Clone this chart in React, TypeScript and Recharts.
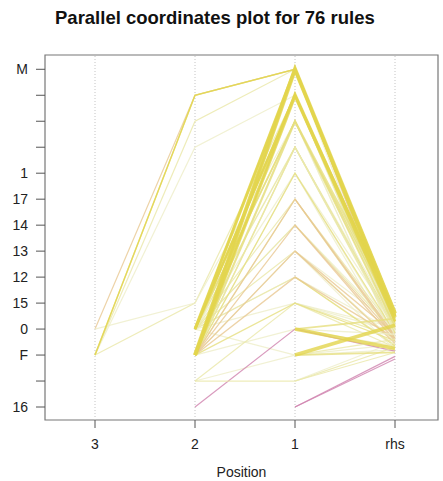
import React from "react";
import { LineChart, Line, XAxis, YAxis, ReferenceLine, ReferenceArea } from "recharts";

const positionLabels = ["3", "2", "1", "rhs"];
const itemLabels = ["16", "", "F", "0", "15", "12", "13", "14", "17", "1", "", "", "", "M"];

const N = null;
// item index at each position for each of the 76 rules
const pos3 = [2, 2, 3, 2, 2, 3, 2,
  N, N, N, N, N, N, N, N, N, N, N, N, N, N, N, N, N, N, N, N, N, N, N, N, N, N, N, N, N, N, N, N, N, N, N, N, N, N, N, N, N, N, N,
  N, N, N, N, N, N, N, N, N, N, N, N, N, N, N, N, N, N, N, N, N, N, N, N, N, N];
const pos2 = [12, 11, 12, 10, 4, 4, 12,
  2, 3, 2, 3, 2, 3, 2, 3, 2, 3, 2, 3, 2, 3, 2, 3, 2, 3, 2, 3, 2, 3, 2, 3, 2, 3, 2, 2, 3, 1, 1, 0, 1, 3, 2, 3, 2, 3, 2, 3, 2, 3, 2,
  N, N, N, N, N, N, N, N, N, N, N, N, N, N, N, N, N, N, N, N, N, N, N, N, N, N];
const pos1 = [13, 13, 13, 12, 12, 11, 13,
  13, 13, 12, 12, 11, 11, 10, 10, 9, 9, 8, 8, 7, 7, 6, 6, 5, 5, 4, 4, 13, 13, 12, 12, 11, 10, 9, 3, 2, 2, 4, 3, 1, 13, 13, 12, 12, 11, 8, 7, 6, 5, 10,
  13, 12, 11, 10, 9, 8, 7, 6, 5, 4, 3, 2, 1, 0, 1, 2, 3, 13, 12, 0, 4, 11, 13, 2, 3, 6];
const rhs = [3.35, 3.15, 3.05, 2.8, 2.95, 2.6, 3.25,
  3.6, 3.5, 3.45, 3.3, 3.7, 3.1, 3.0, 2.9, 2.85, 3.2, 2.75, 2.6, 2.7, 3.0, 2.8, 2.5, 2.65, 2.9, 2.55, 3.05, 3.4, 3.55, 3.15, 2.95, 3.35, 3.25, 2.45, 2.35, 2.2, 2.4, 2.7, 2.15, 2.3, 3.65, 3.5, 3.6, 3.55, 3.4, 2.9, 2.85, 3.1, 2.4, 3.1,
  3.65, 3.5, 3.2, 3.0, 2.75, 2.65, 2.55, 2.45, 2.35, 2.3, 2.25, 3.15, 2.5, 1.95, 2.1, 2.6, 2.8, 3.3, 3.0, 1.85, 2.9, 2.6, 2.7, 2.1, 3.4, 2.2];
const support = [0.012, 0.01, 0.01, 0.01, 0.01, 0.01, 0.016,
  0.07, 0.05, 0.06, 0.04, 0.03, 0.02, 0.015, 0.012, 0.012, 0.01, 0.012, 0.01, 0.012, 0.01, 0.012, 0.01, 0.012, 0.01, 0.012, 0.01, 0.02, 0.015, 0.015, 0.012, 0.012, 0.01, 0.01, 0.01, 0.01, 0.01, 0.01, 0.01, 0.01, 0.03, 0.04, 0.03, 0.025, 0.015, 0.01, 0.01, 0.01, 0.01, 0.012,
  0.03, 0.02, 0.012, 0.012, 0.01, 0.012, 0.012, 0.012, 0.01, 0.01, 0.06, 0.06, 0.01, 0.01, 0.01, 0.012, 0.012, 0.015, 0.012, 0.01, 0.01, 0.01, 0.012, 0.02, 0.02, 0.01];
const lift = [1.6, 1.3, 2.3, 1.1, 1.2, 1.0, 1.9,
  1.9, 1.9, 1.9, 1.8, 1.7, 1.5, 1.3, 1.2, 1.5, 1.1, 2.3, 1.2, 2.4, 1.1, 2.2, 1.4, 2.1, 1.0, 1.6, 1.0, 1.6, 1.4, 1.2, 1.0, 1.1, 1.0, 1.0, 1.1, 1.0, 1.0, 1.2, 3.0, 1.3, 1.8, 2.0, 1.9, 1.8, 1.6, 1.3, 1.4, 1.1, 1.3, 1.6,
  1.7, 1.5, 1.2, 1.1, 1.0, 2.3, 2.2, 2.3, 1.5, 1.2, 1.9, 1.9, 1.0, 3.0, 1.2, 1.3, 1.1, 1.3, 1.2, 2.8, 1.0, 1.0, 1.1, 1.6, 1.7, 1.0];

const columns = [pos3, pos2, pos1, rhs];
const tableData = positionLabels.map((_, p) => {
  const row: Record<string, number | null> = { x: p + 1 };
  rhs.forEach((__, i) => {
    row["r" + i] = columns[p][i];
  });
  return row;
});

const order = rhs.map((_, i) => i).sort((a, b) => support[a] - support[b]);

function colorFor(l: number) {
  if (l < 1.15) return "#EEEEC8";
  if (l < 1.45) return "#EAE7A8";
  if (l < 1.75) return "#E6DE7E";
  if (l < 2.05) return "#E2D44C";
  if (l < 2.6) return "#E8C892";
  return "#CF82AE";
}
function widthFor(s: number) {
  return 1.2 + (s - 0.01) * 48;
}

const FONT = "'Liberation Sans', Arial, sans-serif";

export default function App() {
  return (
    <div style={{ position: "absolute", left: 0, top: 0, width: 443, height: 481, background: "#fff", fontFamily: FONT }}>
      <div style={{ position: "absolute", left: 55, top: 8, fontSize: 18.5, fontWeight: "bold", color: "#111", lineHeight: "20px", whiteSpace: "nowrap" }}>
        Parallel coordinates plot for 76 rules
      </div>
      <LineChart width={443} height={481} data={tableData} margin={{ top: 55, right: 5, bottom: 0, left: 0 }}>
        <XAxis
          dataKey="x"
          type="number"
          domain={[0.5, 4.43]}
          ticks={[1, 2, 3, 4]}
          tickFormatter={(v: number) => positionLabels[v - 1]}
          allowDataOverflow
          axisLine={false}
          tickLine={{ stroke: "#555" }}
          tickSize={8}
          tickMargin={11}
          height={61}
          tick={{ fill: "#222", fontSize: 14, fontFamily: FONT }}
          label={{ value: "Position", position: "insideBottom", offset: 4, fill: "#222", fontSize: 14, fontFamily: FONT }}
        />
        <YAxis
          type="number"
          domain={[-0.5, 13.55]}
          ticks={itemLabels.map((_, i) => i)}
          interval={0}
          tickFormatter={(v: number) => itemLabels[v]}
          allowDataOverflow
          axisLine={false}
          tickLine={{ stroke: "#555" }}
          tickSize={9}
          tickMargin={8}
          width={45}
          tick={{ fill: "#222", fontSize: 14, fontFamily: FONT }}
        />
        <ReferenceArea x1={0.5} x2={4.43} y1={-0.5} y2={13.55} fill="none" stroke="#777" strokeWidth={1.2} ifOverflow="visible" />
        {[1, 2, 3, 4].map((x) => (
          <ReferenceLine key={x} x={x} stroke="#c4c4c4" strokeDasharray="1 2" />
        ))}
        {order.map((i) => (
          <Line
            key={i}
            dataKey={"r" + i}
            type="linear"
            stroke={colorFor(lift[i])}
            strokeWidth={widthFor(support[i])}
            strokeOpacity={0.8}
            dot={false}
            activeDot={false}
            connectNulls={false}
            isAnimationActive={false}
          />
        ))}
      </LineChart>
    </div>
  );
}
